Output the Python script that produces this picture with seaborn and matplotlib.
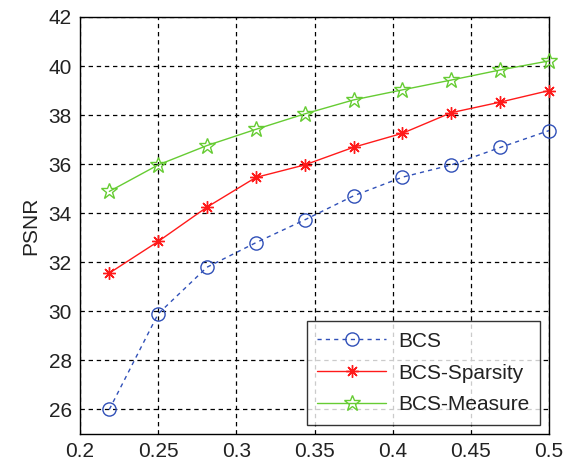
import matplotlib
matplotlib.use("Agg")
import matplotlib.pyplot as plt
import seaborn as sns
import pandas as pd

# Measurement ratio (x) and reconstruction PSNR (dB) for each method
ratios = [0.21875, 0.25, 0.28125, 0.3125, 0.34375, 0.375, 0.40625, 0.4375, 0.46875, 0.5]
psnr_bcs = [26.0, 29.9, 31.8, 32.8, 33.73, 34.71, 35.47, 35.97, 36.68, 37.37]
psnr_sparsity = [31.56, 32.85, 34.25, 35.46, 35.97, 36.69, 37.26, 38.1, 38.53, 39.0]
psnr_measure = [34.89, 35.97, 36.76, 37.42, 38.05, 38.62, 39.03, 39.43, 39.84, 40.21]

methods = ["BCS", "BCS-Sparsity", "BCS-Measure"]
x_ticks = [0.2, 0.25, 0.3, 0.35, 0.4, 0.45, 0.5]
x_tick_labels = ["0.2", "0.25", "0.3", "0.35", "0.4", "0.45", "0.5"]
y_ticks = [26, 28, 30, 32, 34, 36, 38, 40, 42]

sns.set_style("white")
plt.rcParams["font.family"] = ["Liberation Sans", "DejaVu Sans"]

df = pd.DataFrame({
    "ratio": ratios * 3,
    "psnr": psnr_bcs + psnr_sparsity + psnr_measure,
    "method": [m for m in methods for _ in ratios],
})

palette = {"BCS": "#3050b8", "BCS-Sparsity": "#ff1a1a", "BCS-Measure": "#66cc33"}
# asterisk for the sparsity curve is applied to the line after plotting
markers = {"BCS": "o", "BCS-Sparsity": (8, 2, 0), "BCS-Measure": "*"}
base_markers = {"BCS": "o", "BCS-Sparsity": "X", "BCS-Measure": "*"}
dashes = {"BCS": (3, 3), "BCS-Sparsity": "", "BCS-Measure": ""}
msize = {"BCS": 9.5, "BCS-Sparsity": 9, "BCS-Measure": 12}

fig = plt.figure(figsize=(5.65, 4.63), dpi=100)
ax = fig.add_axes([0.1416, 0.0626, 0.8301, 0.9007])

sns.lineplot(data=df, x="ratio", y="psnr", hue="method", style="method",
             hue_order=methods, style_order=methods, palette=palette,
             markers=base_markers, dashes=dashes, legend=False, ax=ax, linewidth=1.0)

lines = ax.get_lines()[:3]
for line, name in zip(lines, methods):
    line.set_marker(markers[name])
    line.set_markersize(msize[name])
    line.set_markeredgecolor(palette[name])
    line.set_markeredgewidth(1.0)
    line.set_markerfacecolor("none" if name != "BCS-Sparsity" else palette[name])
    line.set_linestyle((0, (3, 3)) if name == "BCS" else "-")
    line.set_clip_on(False)
    line.set_zorder(3)

ax.set_xlim(0.2, 0.5)
ax.set_ylim(25, 42)
ax.set_xticks(x_ticks)
ax.set_xticklabels(x_tick_labels)
ax.set_yticks(y_ticks)
ax.set_xlabel("")
ax.set_ylabel("PSNR", fontsize=15, color="#222222", labelpad=6)

ax.grid(True, color="black", linestyle=(0, (3.5, 3)), linewidth=0.9)
ax.tick_params(axis="both", direction="in", length=4, width=0.8, colors="black",
               labelsize=15, labelcolor="#222222", pad=6)
for s in ax.spines.values():
    s.set_color("black")
    s.set_linewidth(1.0)

leg = ax.legend(lines, methods, loc="lower right", bbox_to_anchor=(0.981, 0.022),
                borderaxespad=0, fontsize=15, handlelength=3.3, labelspacing=0.62,
                frameon=True, fancybox=False, edgecolor="black", borderpad=0.5,
                handletextpad=0.6)
leg.get_frame().set_linewidth(1.0)
leg.set_zorder(5)
for t in leg.get_texts():
    t.set_color("#222222")

fig.savefig("out.png", dpi=100)
